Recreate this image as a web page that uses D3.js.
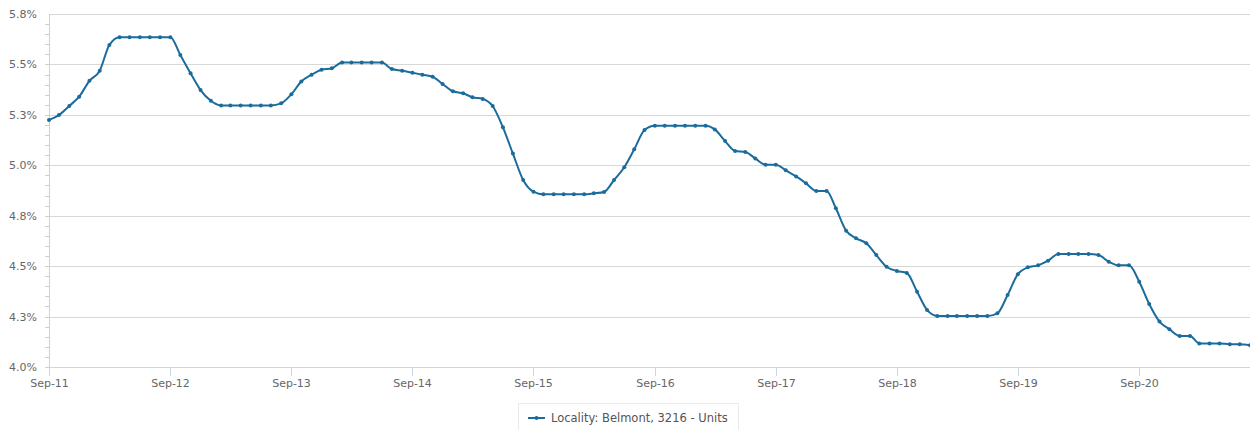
<!DOCTYPE html>
<html>
<head>
<meta charset="utf-8">
<script src="https://cdn.jsdelivr.net/npm/d3@7/dist/d3.min.js"></script>
<style>
  body { margin: 0; background: #fff; }
  text { font-family: "DejaVu Sans", sans-serif; }
</style>
</head>
<body>
<div id="chart"></div>
<script>
// Monthly yield, Sep-11 .. Aug-21
const startMonth = new Date(2011, 8, 1);
const endMonth = new Date(2021, 7, 1);
const seriesName = "Locality: Belmont, 3216 - Units";
const values = [
    5.225, 5.249, 5.294, 5.340, 5.419, 5.469, 5.596,
    5.635, 5.635, 5.635, 5.635, 5.635, 5.635,
    5.547, 5.456, 5.373, 5.320, 5.297,
    5.297, 5.297, 5.297, 5.297, 5.297,
    5.307, 5.352, 5.415, 5.449, 5.474, 5.481,
    5.509, 5.509, 5.509, 5.509, 5.509,
    5.477, 5.469, 5.459, 5.449, 5.439, 5.403, 5.367, 5.357, 5.337, 5.329,
    5.294, 5.188, 5.058, 4.927, 4.869,
    4.856, 4.856, 4.856, 4.856, 4.856,
    4.861, 4.868, 4.927, 4.990, 5.079, 5.175,
    5.196, 5.196, 5.196, 5.196, 5.196, 5.196,
    5.178, 5.120, 5.071, 5.066, 5.034, 5.003, 5.003, 4.975, 4.945, 4.911,
    4.873, 4.873, 4.787, 4.676, 4.638, 4.613, 4.555, 4.497, 4.476, 4.466,
    4.373, 4.283,
    4.253, 4.253, 4.253, 4.253, 4.253, 4.253,
    4.266, 4.357, 4.460, 4.494, 4.504, 4.527,
    4.560, 4.560, 4.560, 4.560,
    4.555, 4.522, 4.504, 4.504, 4.423, 4.312, 4.225, 4.187, 4.154, 4.154,
    4.117, 4.117, 4.117, 4.113, 4.113, 4.108
];
const yTicks = [4.0, 4.25, 4.5, 4.75, 5.0, 5.25, 5.5, 5.75];
const yTickLabels = ["4.0%", "4.3%", "4.5%", "4.8%", "5.0%", "5.3%", "5.5%", "5.8%"];
const xTickLabels = ["Sep-11", "Sep-12", "Sep-13", "Sep-14", "Sep-15", "Sep-16", "Sep-17", "Sep-18", "Sep-19", "Sep-20"];

const months = d3.timeMonth.range(startMonth, d3.timeMonth.offset(endMonth, 1));
const data = months.map((m, i) => ({ date: m, value: values[i] }));

const W = 1250, H = 430;
const margin = { top: 14, right: 0, bottom: 63, left: 49 };
const width = W - margin.left - margin.right,
      height = H - margin.top - margin.bottom;

const lineColor = "#1b6c9c";

const svg = d3.select("#chart").append("svg")
    .attr("width", W)
    .attr("height", H);

const g = svg.append("g")
    .attr("transform", `translate(${margin.left}, ${margin.top})`);

const x = d3.scaleTime()
    .domain([startMonth, endMonth])
    .range([0, width]);

const y = d3.scaleLinear()
    .domain([4.0, 5.75])
    .range([height, 0]);

// gridlines
g.append("g")
    .selectAll("line")
    .data(yTicks.slice(1))
    .enter().append("line")
    .attr("x1", 0)
    .attr("x2", width)
    .attr("y1", d => Math.round(y(d)) + 0.5)
    .attr("y2", d => Math.round(y(d)) + 0.5)
    .attr("stroke", "#d8d8d8")
    .attr("stroke-width", 1);

// y axis line + minor ticks
const minorTicks = d3.range(0, 35).map(i => 4.0 + i * 0.05);
g.append("line")
    .attr("x1", 0.5).attr("x2", 0.5)
    .attr("y1", 0).attr("y2", height)
    .attr("stroke", "#d0d0d0");
g.append("g")
    .selectAll("line")
    .data(minorTicks)
    .enter().append("line")
    .attr("x1", -4).attr("x2", 0)
    .attr("y1", d => Math.round(y(d)) + 0.5)
    .attr("y2", d => Math.round(y(d)) + 0.5)
    .attr("stroke", "#d0d0d0");

// y labels
g.append("g")
    .selectAll("text")
    .data(yTicks)
    .enter().append("text")
    .attr("x", -12)
    .attr("y", d => y(d) + 4)
    .attr("text-anchor", "end")
    .attr("fill", "#666")
    .style("font-size", "11px")
    .text((d, i) => yTickLabels[i]);

// x axis
const xTickDates = xTickLabels.map((t, i) => new Date(2011 + i, 8, 1));
g.append("line")
    .attr("x1", 0).attr("x2", width)
    .attr("y1", height + 0.5).attr("y2", height + 0.5)
    .attr("stroke", "#ccd6eb");
const xt = g.append("g")
    .selectAll("g")
    .data(xTickDates)
    .enter().append("g")
    .attr("transform", d => `translate(${Math.round(x(d)) + 0.5}, ${height})`);
xt.append("line")
    .attr("y1", 0).attr("y2", 9)
    .attr("stroke", "#ccd6eb");
xt.append("text")
    .attr("y", 20)
    .attr("text-anchor", "middle")
    .attr("fill", "#666")
    .style("font-size", "11px")
    .text((d, i) => xTickLabels[i]);

// line
const line = d3.line()
    .x(d => x(d.date))
    .y(d => y(d.value))
    .curve(d3.curveMonotoneX);

g.append("path")
    .datum(data)
    .attr("fill", "none")
    .attr("stroke", lineColor)
    .attr("stroke-width", 2)
    .attr("d", line);

g.append("g")
    .selectAll("circle")
    .data(data)
    .enter().append("circle")
    .attr("cx", d => x(d.date))
    .attr("cy", d => y(d.value))
    .attr("r", 2)
    .attr("fill", lineColor);

// legend
const legend = svg.append("g")
    .attr("transform", "translate(518, 403)");
legend.append("rect")
    .attr("x", 0.5).attr("y", 0.5)
    .attr("width", 220).attr("height", 40)
    .attr("fill", "#fff")
    .attr("stroke", "#eaeaea");
legend.append("line")
    .attr("x1", 10).attr("x2", 27)
    .attr("y1", 15).attr("y2", 15)
    .attr("stroke", lineColor)
    .attr("stroke-width", 2);
legend.append("circle")
    .attr("cx", 18.5).attr("cy", 15).attr("r", 2)
    .attr("fill", lineColor);
legend.append("text")
    .attr("x", 33)
    .attr("y", 19)
    .attr("fill", "#555")
    .style("font-size", "11.5px")
    .text(seriesName);
</script>
</body>
</html>
